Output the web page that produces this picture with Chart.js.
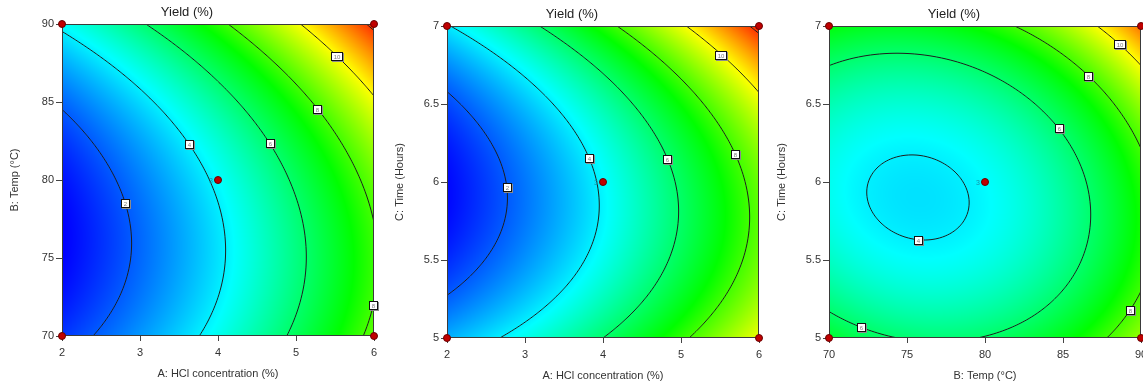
<!DOCTYPE html>
<html>
<head>
<meta charset="utf-8">
<script src="https://cdn.jsdelivr.net/npm/chart.js@4.4.1/dist/chart.umd.min.js"></script>
<style>
html, body { margin: 0; padding: 0; background: #fff; overflow: hidden; }
#wrap { position: relative; width: 1143px; height: 389px; overflow: hidden; }
canvas { position: absolute; }
</style>
</head>
<body>
<div id="wrap">
  <canvas id="c1" width="381" height="389" style="left:0px;top:0px"></canvas>
  <canvas id="c2" width="381" height="389" style="left:385px;top:2px"></canvas>
  <canvas id="c3" width="381" height="389" style="left:767px;top:2px"></canvas>
</div>
<script>
// 軸の目盛
const hclTicks = [2, 3, 4, 5, 6];
const tempTicks = [70, 75, 80, 85, 90];
const timeTicks = [5, 5.5, 6, 6.5, 7];

// 等高線の値
const contourLevels = [2, 4, 6, 8, 10, 12];

// 収率 (%) の格子値: 行 = 縦軸の目盛 (下から), 列 = 横軸の目盛 (左から)
const yieldHclTemp = [
  [1.50, 2.83, 4.40, 6.23, 8.30],
  [0.78, 2.18, 3.83, 5.73, 7.88],
  [1.00, 2.48, 4.20, 6.18, 8.40],
  [2.15, 3.70, 5.50, 7.55, 9.85],
  [4.24, 5.87, 7.74, 9.87, 12.24]
];
const yieldHclTime = [
  [3.15, 4.45, 6.00, 7.80, 9.85],
  [1.35, 2.76, 4.41, 6.32, 8.47],
  [0.88, 2.39, 4.15, 6.16, 8.42],
  [1.74, 3.36, 5.22, 7.34, 9.70],
  [3.93, 5.65, 7.62, 9.84, 12.31]
];
const yieldTempTime = [
  [6.77, 5.95, 6.05, 7.04, 8.95],
  [4.93, 4.25, 4.47, 5.60, 7.63],
  [4.39, 3.84, 4.19, 5.45, 7.61],
  [5.15, 4.73, 5.21, 6.60, 8.89],
  [7.21, 6.92, 7.53, 9.05, 11.47]
];

// 実験点 (角と中心)
const ptsHclTemp = [[2, 70], [6, 70], [2, 90], [6, 90], [4, 80]];
const ptsHclTime = [[2, 5], [6, 5], [2, 7], [6, 7], [4, 6]];
const ptsTempTime = [[70, 5], [90, 5], [70, 7], [90, 7], [80, 6]];
const centerReps = 3;

// 等高線ラベル [値, 横軸の値, 縦軸の値]
const labelsHclTemp = [[2, 2.84, 78.6], [4, 3.64, 82.4], [6, 4.67, 82.4], [8, 5.28, 84.6], [10, 5.54, 88.0], [8, 5.92, 72.1]];
const labelsHclTime = [[2, 2.72, 5.97], [4, 3.81, 6.15], [6, 4.82, 6.15], [8, 5.69, 6.18], [10, 5.54, 6.83]];
const labelsTempTime = [[4, 75.7, 5.65], [6, 84.7, 6.34], [6, 72.2, 5.11], [8, 86.5, 6.67], [8, 89.1, 5.19], [10, 88.5, 6.87]];

// 色の段階 (青 → 水色 → 緑 → 黄 → 赤)
const colorLevels = [0.8, 4.2, 7.3, 10.0, 12.6];
const colorRGB = [[0, 0, 255], [0, 255, 255], [0, 255, 0], [255, 255, 0], [255, 0, 0]];

Chart.defaults.font.family = '"Liberation Sans", Arial, sans-serif';
Chart.defaults.color = '#333';

function extend(a) {
  const n = a.length;
  return [3 * a[0] - 3 * a[1] + a[2]].concat(a, [3 * a[n - 1] - 3 * a[n - 2] + a[n - 3]]);
}

// 3次たたみ込み補間 (Keys)
function keys(e, u) {
  const n = e.length - 2;
  let i = Math.floor(u);
  if (i > n - 2) i = n - 2;
  if (i < 0) i = 0;
  const t = u - i;
  const p0 = e[i], p1 = e[i + 1], p2 = e[i + 2], p3 = e[i + 3];
  return p1 + 0.5 * t * (p2 - p0 + t * (2 * p0 - 5 * p1 + 4 * p2 - p3 + t * (3 * (p1 - p2) + p3 - p0)));
}

function colorFor(z) {
  if (z <= colorLevels[0]) return colorRGB[0];
  for (let k = 0; k < colorLevels.length - 1; k++) {
    if (z <= colorLevels[k + 1]) {
      const t = (z - colorLevels[k]) / (colorLevels[k + 1] - colorLevels[k]);
      const c0 = colorRGB[k], c1 = colorRGB[k + 1];
      return [c0[0] + (c1[0] - c0[0]) * t, c0[1] + (c1[1] - c0[1]) * t, c0[2] + (c1[2] - c0[2]) * t];
    }
  }
  return colorRGB[colorRGB.length - 1];
}

const surfaces = {};

const surfacePlugin = {
  id: 'surface',
  beforeDatasetsDraw(chart) {
    const cfg = surfaces[chart.canvas.id];
    const ctx = chart.ctx;
    const a = chart.chartArea;
    const xs = chart.scales.x, ys = chart.scales.y;
    const grid = cfg.grid;
    const W = Math.round(a.right - a.left), H = Math.round(a.bottom - a.top);
    const nx = grid[0].length, ny = grid.length;
    const rows = grid.map(extend);
    const u = [], v = [];
    for (let i = 0; i <= W; i++) u.push((xs.getValueForPixel(a.left + i) - xs.min) / (xs.max - xs.min) * (nx - 1));
    for (let j = 0; j <= H; j++) v.push((ys.getValueForPixel(a.top + j) - ys.min) / (ys.max - ys.min) * (ny - 1));
    const val = new Float64Array((W + 1) * (H + 1));
    for (let i = 0; i <= W; i++) {
      const col = extend(rows.map(r => keys(r, u[i])));
      for (let j = 0; j <= H; j++) val[j * (W + 1) + i] = keys(col, v[j]);
    }

    // 色の面
    const off = document.createElement('canvas');
    off.width = W; off.height = H;
    const oc = off.getContext('2d');
    const img = oc.createImageData(W, H);
    for (let j = 0; j < H; j++) {
      for (let i = 0; i < W; i++) {
        const k = j * (W + 1) + i;
        const z = (val[k] + val[k + 1] + val[k + W + 1] + val[k + W + 2]) / 4;
        const c = colorFor(z);
        const p = (j * W + i) * 4;
        img.data[p] = c[0]; img.data[p + 1] = c[1]; img.data[p + 2] = c[2]; img.data[p + 3] = 255;
      }
    }
    oc.putImageData(img, 0, 0);
    ctx.drawImage(off, a.left, a.top);

    // 等高線
    ctx.save();
    ctx.beginPath();
    ctx.rect(a.left, a.top, W, H);
    ctx.clip();
    ctx.strokeStyle = '#1e1e1e';
    ctx.lineWidth = 1;
    const segs = {};
    for (const L of contourLevels) {
      const list = [];
      for (let j = 0; j < H; j++) {
        for (let i = 0; i < W; i++) {
          const k = j * (W + 1) + i;
          const a00 = val[k], a10 = val[k + 1], a01 = val[k + W + 1], a11 = val[k + W + 2];
          const p = [];
          if ((a00 < L) !== (a10 < L)) p.push([i + (L - a00) / (a10 - a00), j]);
          if ((a10 < L) !== (a11 < L)) p.push([i + 1, j + (L - a10) / (a11 - a10)]);
          if ((a01 < L) !== (a11 < L)) p.push([i + (L - a01) / (a11 - a01), j + 1]);
          if ((a00 < L) !== (a01 < L)) p.push([i, j + (L - a00) / (a01 - a00)]);
          if (p.length >= 2) list.push([p[0], p[1]]);
          if (p.length === 4) list.push([p[2], p[3]]);
        }
      }
      segs[L] = list;
      ctx.beginPath();
      for (const s of list) {
        ctx.moveTo(a.left + s[0][0], a.top + s[0][1]);
        ctx.lineTo(a.left + s[1][0], a.top + s[1][1]);
      }
      ctx.stroke();
    }
    ctx.restore();

    // 枠
    ctx.save();
    ctx.strokeStyle = '#3a3a3a';
    ctx.lineWidth = 1;
    ctx.strokeRect(a.left + 0.5, a.top + 0.5, W - 1, H - 1);
    ctx.restore();

    // 等高線ラベル
    ctx.save();
    ctx.lineWidth = 1;
    for (const [L, lx, ly] of cfg.labels) {
      const hx = xs.getPixelForValue(lx) - a.left, hy = ys.getPixelForValue(ly) - a.top;
      let best = null, bd = Infinity;
      for (const s of segs[L] || []) {
        const mx = (s[0][0] + s[1][0]) / 2, my = (s[0][1] + s[1][1]) / 2;
        const d = (mx - hx) * (mx - hx) + (my - hy) * (my - hy);
        if (d < bd) { bd = d; best = [mx, my]; }
      }
      if (!best) continue;
      const text = String(L);
      const bw = text.length > 1 ? 12 : 9, bh = 9;
      const bx = Math.round(a.left + best[0]) - Math.floor(bw / 2);
      const by = Math.round(a.top + best[1]) - Math.floor(bh / 2);
      ctx.fillStyle = '#8c8c8c';
      ctx.fillRect(bx + 1, by + 1, bw, bh);
      ctx.fillStyle = '#ffffff';
      ctx.fillRect(bx, by, bw, bh);
      ctx.strokeStyle = '#111';
      ctx.strokeRect(bx + 0.5, by + 0.5, bw - 1, bh - 1);
      ctx.fillStyle = '#7a7a7a';
      ctx.font = '6px "Liberation Sans", Arial, sans-serif';
      ctx.textAlign = 'center';
      ctx.textBaseline = 'middle';
      ctx.fillText(text, bx + bw / 2, by + bh / 2 + 0.5);
    }
    ctx.restore();
  },
  afterDatasetsDraw(chart) {
    const cfg = surfaces[chart.canvas.id];
    const ctx = chart.ctx;
    const c = cfg.points[cfg.points.length - 1];
    const px = chart.scales.x.getPixelForValue(c.x), py = chart.scales.y.getPixelForValue(c.y);
    ctx.save();
    ctx.fillStyle = '#1890a8';
    ctx.font = '7px "Liberation Sans", Arial, sans-serif';
    ctx.textAlign = 'right';
    ctx.textBaseline = 'middle';
    ctx.fillText(String(centerReps), px - 5, py + 1);
    ctx.restore();
  }
};

function axis(ticks, title, isX) {
  return {
    type: 'linear',
    min: ticks[0],
    max: ticks[ticks.length - 1],
    afterFit(s) {
      if (isX) {
        s.height = 53;
        s.paddingLeft = 0;
        s.paddingRight = 0;
      } else {
        s.width = 62;
      }
    },
    ticks: {
      stepSize: ticks[1] - ticks[0],
      padding: isX ? 5 : 2,
      font: { size: 11 },
      color: '#333',
      callback: value => String(Math.round(value * 100) / 100)
    },
    grid: { drawOnChartArea: false, drawTicks: true, tickLength: isX ? 5 : 6, color: '#444' },
    border: { display: false },
    title: {
      display: true, text: title, color: '#333', font: { size: 11 },
      padding: isX ? { top: 0, bottom: 8 } : { top: 8, bottom: 0 }
    }
  };
}

function makeChart(id, xTicks, yTicks, xTitle, yTitle, grid, pts, labels) {
  const points = pts.map(p => ({ x: p[0], y: p[1] }));
  surfaces[id] = { grid: grid, labels: labels, points: points };
  return new Chart(document.getElementById(id), {
    type: 'scatter',
    data: {
      datasets: [{
        data: points,
        pointRadius: 3.5,
        pointBackgroundColor: '#c00000',
        pointBorderColor: '#6a0000',
        pointBorderWidth: 1,
        clip: false
      }]
    },
    options: {
      responsive: false,
      animation: false,
      events: [],
      layout: { padding: { left: 0, right: 7, top: 0, bottom: 0 } },
      plugins: {
        legend: { display: false },
        tooltip: { enabled: false },
        title: {
          display: true, text: 'Yield (%)', color: '#222',
          font: { size: 13, weight: 'normal', lineHeight: 1 },
          padding: { top: 6, bottom: 5 }
        }
      },
      scales: {
        x: axis(xTicks, xTitle, true),
        y: axis(yTicks, yTitle, false)
      }
    },
    plugins: [surfacePlugin]
  });
}

makeChart('c1', hclTicks, tempTicks, 'A: HCl concentration (%)', 'B: Temp (°C)', yieldHclTemp, ptsHclTemp, labelsHclTemp);
makeChart('c2', hclTicks, timeTicks, 'A: HCl concentration (%)', 'C: Time (Hours)', yieldHclTime, ptsHclTime, labelsHclTime);
makeChart('c3', tempTicks, timeTicks, 'B: Temp (°C)', 'C: Time (Hours)', yieldTempTime, ptsTempTime, labelsTempTime);
</script>
</body>
</html>
